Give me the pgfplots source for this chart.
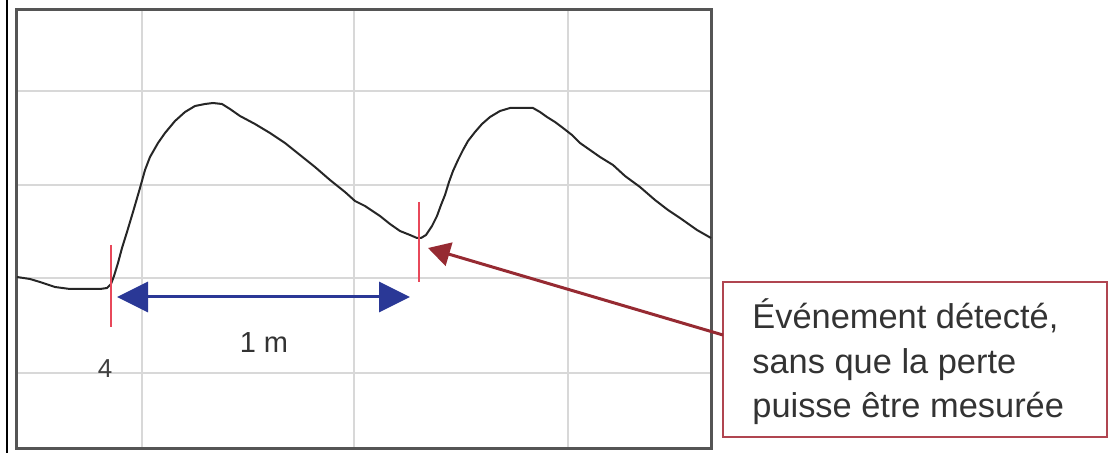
\documentclass[border=0pt]{standalone}
\usepackage{pgfplots}
\pgfplotsset{compat=1.18}
\usepackage{fontspec}
\setmainfont{Liberation Sans}
\usetikzlibrary{arrows.meta}
\definecolor{gridc}{HTML}{D8D8D8}
\definecolor{frame}{HTML}{555555}
\definecolor{arrowblue}{HTML}{2A3896}
\definecolor{arrowred}{HTML}{962A32}
\definecolor{boxred}{HTML}{B04550}
\definecolor{markred}{HTML}{E8485A}
\definecolor{txt}{HTML}{333333}
\begin{document}
\begin{tikzpicture}
\useasboundingbox (0,0) rectangle (560pt,-226.5pt);
\draw[black,line width=0.8pt] (3.5pt,0) -- (3.5pt,-226.5pt);
\begin{axis}[
  at={(8.5pt,-5pt)}, anchor=north west,
  scale only axis, width=347pt, height=219pt,
  xmin=17, xmax=711, ymin=10, ymax=448, y dir=reverse,
  xtick={142,354,568}, ytick={91,185,278,373},
  xticklabels={}, yticklabels={},
  major tick length=0pt,
  grid=major, grid style={gridc, line width=0.75pt},
  axis line style={draw=frame, line width=1.5pt},
  clip=false,
]
\addplot[black!85, line width=1pt, no markers] coordinates {
(17,277)(30,279)(40,282)(55,287)(70,289)(85,289)(100,289)(107,288)(111,284)(114,276)(118,263)(122,248)(127,232)(133,212)(140,188)(145,170)(150,157)(158,143)(165,133)(175,121)(185,112)(195,106)(205,104)(213,103)(222,104)(230,109)(240,116)(255,124)(270,133)(285,143)(300,155)(315,167)(330,180)(345,192)(355,201)(365,206)(380,216)(390,224)(400,231)(410,235)(417,238)(421,238)(426,235)(432,226)(437,216)(441,205)(445,195)(449,182)(453,171)(458,160)(463,150)(468,141)(475,132)(482,124)(490,117)(500,111)(510,108)(522,108)(533,108)(540,112)(547,117)(555,122)(563,128)(572,135)(580,143)(590,150)(600,157)(613,165)(625,176)(640,187)(655,200)(668,210)(680,218)(697,230)(711,238)
};
\addplot[markred, line width=0.9pt] coordinates {(111,245)(111,327)};
\addplot[markred, line width=0.9pt] coordinates {(419,202)(419,282)};
\draw[arrowblue, line width=1.5pt, {Triangle[length=15.5pt,width=15pt]}-{Triangle[length=15.5pt,width=15pt]}] (axis cs:117,297) -- (axis cs:410,297);
\node[txt, font=\fontsize{14.5}{17}\selectfont] at (axis cs:264,343) {1 m};
\node[black!75, font=\fontsize{13}{15}\selectfont] at (axis cs:105,369) {4};
\draw[boxred, line width=1pt] (axis cs:723,282) rectangle (axis cs:1107,437);
\draw[arrowred, line width=1.5pt, -{Triangle[length=11pt,width=12pt]}] (axis cs:723,335) -- (axis cs:428,248);
\node[txt, anchor=base west, inner sep=0pt, font=\fontsize{17.2}{22}\selectfont] at (axis cs:752,328) {Événement détecté,};
\node[txt, anchor=base west, inner sep=0pt, font=\fontsize{17.2}{22}\selectfont] at (axis cs:752,373) {sans que la perte};
\node[txt, anchor=base west, inner sep=0pt, font=\fontsize{17.2}{22}\selectfont] at (axis cs:752,417) {puisse être mesurée};
\end{axis}
\end{tikzpicture}
\end{document}
